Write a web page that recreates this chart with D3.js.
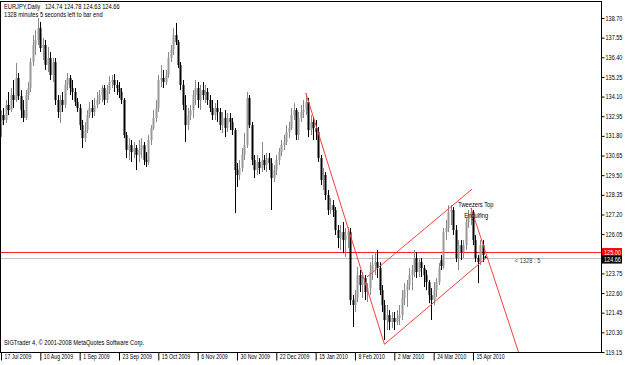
<!DOCTYPE html>
<html>
<head>
<meta charset="utf-8">
<script src="https://cdnjs.cloudflare.com/ajax/libs/d3/7.8.5/d3.min.js"></script>
<style>
  body { margin: 0; background: #fff; }
  svg { display: block; font-family: "Liberation Sans", Arial, sans-serif; }
</style>
</head>
<body>
<svg id="chart" width="625" height="365"></svg>
<script>
// EURJPY daily, 17 Jul 2009 .. Apr 2010
const opens = [
  132.43,133.02,132.73,133.61,133.31,134.19,133.90,135.19,134.13,133.31,
  132.85,134.19,134.60,136.12,137.12,137.41,138.11,136.94,137.12,135.95,
  136.36,135.36,136.12,133.90,133.20,133.90,133.61,134.78,135.19,134.60,
  134.37,133.78,133.43,132.43,131.67,132.14,133.02,133.43,133.20,133.61,
  133.90,134.19,134.60,133.90,134.48,134.95,135.07,134.78,134.60,134.37,
  133.90,131.85,130.97,131.26,130.85,131.09,130.68,130.97,131.26,130.39,
  130.27,131.56,132.26,132.85,133.43,135.07,135.19,134.95,135.36,136.36,
  136.83,137.70,137.29,135.95,134.78,133.61,132.43,133.02,133.31,134.19,
  134.60,133.90,134.48,134.19,134.37,133.90,133.43,133.02,133.43,133.20,
  132.43,132.85,132.26,132.85,132.61,132.14,129.80,129.51,129.92,130.68,
  131.26,134.02,132.43,130.39,129.80,130.27,129.92,130.39,130.09,130.50,
  130.21,129.33,129.80,130.39,130.85,131.26,131.44,132.03,132.26,133.02,
  133.31,131.85,132.85,133.20,133.31,133.78,132.14,132.61,132.26,132.03,
  130.50,129.22,129.51,128.34,127.46,127.75,127.46,126.29,125.82,126.17,
  125.70,126.00,126.17,122.19,121.90,122.31,123.65,123.07,123.48,122.66,
  122.89,123.83,124.24,124.41,124.06,122.77,121.90,121.02,121.31,120.90,
  121.14,120.90,121.14,121.31,122.31,122.77,123.07,123.65,123.95,124.65,
  123.83,124.41,124.06,123.65,123.24,122.48,122.19,122.77,123.24,124.53,
  124.18,126.17,126.41,127.34,127.46,126.29,124.65,125.41,125.00,125.41,
  126.76,127.17,127.34,125.70,124.65,124.41,125.41,124.74
];
const highs = [
  133.31,133.43,133.90,134.37,134.60,135.07,136.07,135.48,134.48,133.90,
  134.48,134.95,136.36,137.70,138.00,138.70,138.47,137.53,137.41,137.00,
  136.71,136.36,136.36,134.19,134.19,134.37,135.07,135.48,135.36,135.07,
  134.60,134.02,133.66,132.73,132.61,133.31,133.78,133.90,134.02,134.37,
  134.48,134.78,134.78,134.78,135.30,135.36,135.42,135.07,134.95,134.60,
  134.02,132.03,131.67,131.56,131.44,131.26,131.56,131.67,131.44,130.85,
  131.85,132.43,133.31,133.90,135.36,135.95,135.66,135.66,136.71,137.12,
  138.11,138.41,137.41,136.12,135.07,134.19,133.43,133.61,134.48,135.07,
  134.95,134.78,134.95,134.78,134.60,134.19,133.90,133.72,133.90,133.43,
  133.20,133.31,133.14,133.14,132.85,132.26,130.21,130.39,131.09,131.97,
  134.37,134.19,132.61,130.68,130.68,130.50,131.44,130.68,130.80,130.80,
  130.50,130.09,130.68,131.09,131.56,131.85,132.43,132.61,133.43,133.72,
  133.43,133.20,133.61,133.90,134.31,134.02,133.02,132.85,132.73,132.32,
  130.68,129.92,129.68,128.63,128.16,128.04,127.63,126.58,126.58,126.76,
  126.41,126.46,126.41,122.48,122.77,124.12,123.95,123.83,123.65,123.18,
  124.41,124.82,125.00,125.12,124.41,123.07,122.19,121.90,121.60,121.49,
  121.49,121.60,121.90,122.77,123.18,123.36,124.06,124.24,125.12,125.00,
  124.65,124.65,124.24,123.95,123.36,122.89,123.24,123.48,124.36,124.82,
  126.41,126.87,127.75,127.75,127.63,126.58,125.70,125.70,125.70,126.99,
  127.46,127.58,127.46,126.00,124.82,125.70,125.70,124.78
];
const lows = [
  131.73,132.43,132.55,133.02,133.20,133.43,133.78,133.90,132.85,132.61,
  132.73,133.90,134.37,135.89,136.53,137.12,136.71,136.24,135.66,135.54,
  135.07,134.95,133.61,132.85,132.55,133.20,133.43,134.48,134.19,133.90,
  133.55,133.20,132.14,131.09,131.44,131.97,132.85,132.85,132.96,133.43,
  133.66,133.78,133.61,133.72,134.25,134.60,134.37,134.19,134.02,133.66,
  131.67,130.50,130.39,130.27,130.50,129.80,130.27,130.50,130.09,129.98,
  130.09,131.26,132.14,132.61,133.20,134.66,134.60,134.78,135.19,136.12,
  136.53,137.12,135.77,134.48,133.31,131.44,132.14,132.73,132.85,133.61,
  133.43,133.31,133.90,133.72,133.61,133.20,132.73,132.73,132.61,132.14,
  131.97,131.73,132.03,132.14,131.85,127.28,128.81,129.22,129.68,130.39,
  131.09,132.26,130.09,129.33,129.51,129.57,129.68,129.80,129.68,129.80,
  127.46,129.10,129.51,130.09,130.62,130.97,131.26,131.67,132.14,132.73,
  131.56,131.56,132.61,132.85,133.02,131.73,131.85,131.56,131.56,130.27,
  128.92,128.63,128.04,127.17,127.22,127.05,126.00,125.23,125.12,124.94,
  124.71,125.23,121.90,120.61,121.49,122.07,122.66,122.31,122.19,122.07,
  122.48,123.36,123.65,123.48,122.48,121.49,119.85,120.43,120.43,120.55,
  120.43,120.73,120.73,121.02,121.90,121.78,122.77,122.77,123.54,123.48,
  123.54,123.54,122.95,122.77,122.01,121.02,121.90,122.36,123.07,123.95,
  124.00,125.70,126.17,126.58,126.00,124.41,123.95,124.53,124.65,125.12,
  126.41,126.58,125.41,124.41,123.18,124.24,124.41,124.63
];
const closes = [
  133.02,132.73,133.61,133.31,134.19,133.90,135.19,134.13,133.31,132.85,
  134.19,134.60,136.12,137.12,137.41,138.11,136.94,137.12,135.95,136.36,
  135.36,136.12,133.90,133.20,133.90,133.61,134.78,135.19,134.60,134.37,
  133.78,133.43,132.43,131.67,132.14,133.02,133.43,133.20,133.61,133.90,
  134.19,134.60,133.90,134.48,134.95,135.07,134.78,134.60,134.37,133.90,
  131.85,130.97,131.26,130.85,131.09,130.68,130.97,131.26,130.39,130.27,
  131.56,132.26,132.85,133.43,135.07,135.19,134.95,135.36,136.36,136.83,
  137.70,137.29,135.95,134.78,133.61,132.43,133.02,133.31,134.19,134.60,
  133.90,134.48,134.19,134.37,133.90,133.43,133.02,133.43,133.20,132.43,
  132.85,132.26,132.85,132.61,132.14,129.80,129.51,129.92,130.68,131.26,
  134.02,132.43,130.39,129.80,130.27,129.92,130.39,130.09,130.50,130.21,
  129.33,129.80,130.39,130.85,131.26,131.44,132.03,132.26,133.02,133.31,
  131.85,132.85,133.20,133.31,133.78,132.14,132.61,132.26,132.03,130.50,
  129.22,129.51,128.34,127.46,127.75,127.46,126.29,125.82,126.17,125.70,
  126.00,126.17,122.19,121.90,122.31,123.65,123.07,123.48,122.66,122.89,
  123.83,124.24,124.41,124.06,122.77,121.90,121.02,121.31,120.90,121.14,
  120.90,121.14,121.31,122.31,122.77,123.07,123.65,123.95,124.65,123.83,
  124.41,124.06,123.65,123.24,122.48,122.19,122.77,123.24,124.06,124.18,
  126.17,126.41,127.34,127.46,126.29,124.65,125.41,125.00,125.41,126.76,
  127.17,127.34,125.70,124.65,124.41,125.41,124.82,124.66
];

const dateLabels = ['17 Jul 2009', '10 Aug 2009', '1 Sep 2009', '23 Sep 2009', '15 Oct 2009',
  '6 Nov 2009', '30 Nov 2009', '22 Dec 2009', '15 Jan 2010', '8 Feb 2010', '2 Mar 2010',
  '24 Mar 2010', '15 Apr 2010'];
const dateBars = [0, 16, 32, 48, 64, 80, 96, 112, 128, 144, 160, 176, 192];
const priceTicks = [138.70, 137.55, 136.40, 135.25, 134.10, 132.95, 131.80, 130.65, 129.50,
  128.35, 127.20, 126.05, 123.75, 122.60, 121.45, 120.30, 119.15];

// hand drawn objects: [bar, price] pairs
const trendDown1 = [[124, 134.31], [156, 119.60]];
const channelLow = [[156, 119.60], [197.7, 124.70]];
const channelHigh = [[148.9, 123.54], [191.6, 128.68]];
const trendDown2 = [[191.2, 127.58], [212, 118.5]];
const alertLevel = 125.00;
const bidLevel = 124.66;

const n = Math.min(opens.length, highs.length, lows.length, closes.length);
const bars = d3.range(n).map(i => ({ i: i, o: opens[i], h: highs[i], l: lows[i], c: closes[i] }));
const last = bars[n - 1];

const plotL = 0, plotR = 601, plotT = 1, plotB = 352;
const small = 6.5;

const svg = d3.select('#chart');

const x = d3.scaleLinear().domain([0, 244]).range([1, 600.8]);
const y = d3.scaleLinear().domain([119.15, 138.70]).range([plotB, 18]);

// the terminal font is narrower than anything installed, squeeze the glyphs a bit
function narrow(sel, k) {
  sel.each(function() {
    const w = this.getComputedTextLength();
    d3.select(this).attr('textLength', w * k).attr('lengthAdjust', 'spacingAndGlyphs');
  });
}

svg.append('clipPath').attr('id', 'plot')
  .append('rect')
  .attr('x', plotL).attr('y', plotT)
  .attr('width', plotR - plotL).attr('height', plotB - plotT);

const plot = svg.append('g').attr('clip-path', 'url(#plot)');

// level lines
plot.append('line')
  .attr('x1', plotL).attr('x2', plotR)
  .attr('y1', Math.round(y(bidLevel)) + 0.5).attr('y2', Math.round(y(bidLevel)) + 0.5)
  .attr('stroke', '#c0c0c0');
plot.append('line')
  .attr('x1', plotL).attr('x2', plotR)
  .attr('y1', Math.round(y(alertLevel)) + 0.5).attr('y2', Math.round(y(alertLevel)) + 0.5)
  .attr('stroke', '#ff2020');

// candles
const candle = plot.selectAll('g.candle')
  .data(bars)
  .enter().append('g')
  .attr('class', 'candle');

candle.append('line')
  .attr('x1', d => Math.round(x(d.i)) + 0.5)
  .attr('x2', d => Math.round(x(d.i)) + 0.5)
  .attr('y1', d => y(d.h))
  .attr('y2', d => y(d.l))
  .attr('stroke', d => d.c >= d.o ? '#888' : '#000');

candle.append('rect')
  .attr('x', d => Math.round(x(d.i)) - 0.5)
  .attr('width', 2)
  .attr('y', d => y(Math.max(d.o, d.c)))
  .attr('height', d => Math.max(1, Math.abs(y(d.o) - y(d.c))))
  .attr('fill', d => d.c >= d.o ? '#999' : '#000');

// trend lines / channel
const line = d3.line().x(d => x(d[0])).y(d => y(d[1]));
[trendDown1, channelLow, channelHigh, trendDown2].forEach(pts => {
  plot.append('path')
    .attr('d', line(pts))
    .attr('fill', 'none')
    .attr('stroke', '#ff3c3c')
    .attr('stroke-width', 1);
});

// text objects
plot.append('text').attr('x', x(186)).attr('y', y(127.65))
  .attr('font-size', small).text('Tweezers Top').call(narrow, 0.88);
plot.append('text').attr('x', x(188.5)).attr('y', y(127.0))
  .attr('font-size', small).text('Engulfing').call(narrow, 0.88);
plot.append('text').attr('x', x(209)).attr('y', y(124.36))
  .attr('font-size', small).attr('fill', '#404040').text('< 1328 : 5').call(narrow, 0.88);

// frame
svg.append('rect')
  .attr('x', plotL + 0.5).attr('y', plotT + 0.5)
  .attr('width', plotR - plotL).attr('height', plotB - plotT)
  .attr('fill', 'none').attr('stroke', '#000');

// price axis
const yAxis = svg.append('g')
  .attr('transform', 'translate(' + (plotR + 0.5) + ',0)')
  .call(d3.axisRight(y).tickValues(priceTicks).tickSize(3).tickPadding(1).tickFormat(d3.format('.2f')));
yAxis.select('.domain').remove();
yAxis.selectAll('text').attr('font-size', small).attr('font-family', null).attr('fill', '#000')
  .call(narrow, 0.85);

// price labels
const tags = [
  { p: alertLevel, bg: '#ff0000', dy: 0 },
  { p: last.c, bg: '#000', dy: 7.5 }
];
tags.forEach(t => {
  const cy = y(alertLevel) + t.dy;
  svg.append('rect')
    .attr('x', plotR + 1).attr('y', cy - 4)
    .attr('width', 20).attr('height', 8)
    .attr('fill', t.bg);
  svg.append('text')
    .attr('x', plotR + 3).attr('y', cy + 2.5)
    .attr('font-size', small).attr('fill', '#fff')
    .text(d3.format('.2f')(t.p)).call(narrow, 0.85);
});

// date axis
const xAxis = svg.append('g')
  .attr('transform', 'translate(0,' + (plotB + 0.5) + ')')
  .call(d3.axisBottom(x).tickValues(dateBars).tickSize(8).tickFormat((d, i) => dateLabels[i]));
xAxis.select('.domain').remove();
xAxis.selectAll('.tick line').attr('stroke', '#000');
xAxis.selectAll('text')
  .attr('font-size', small).attr('font-family', null)
  .attr('text-anchor', 'start').attr('dx', 3).attr('y', 2).attr('dy', '0.71em')
  .attr('fill', '#000')
  .call(narrow, 0.8);

// header + footer text
const f2 = d3.format('.2f');
svg.append('text').attr('x', 4).attr('y', 9).attr('font-size', small)
  .style('white-space', 'pre')
  .text('EURJPY,Daily   ' + [last.o, last.h, last.l, last.c].map(f2).join(' ')).call(narrow, 0.88);
svg.append('text').attr('x', 4).attr('y', 17).attr('font-size', small)
  .text('1328 minutes 5 seconds left to bar end').call(narrow, 0.88);
svg.append('text').attr('x', 4).attr('y', 345).attr('font-size', small)
  .text('SIGTrader 4, \u00a9 2001-2008 MetaQuotes Software Corp.').call(narrow, 0.88);
</script>
</body>
</html>
